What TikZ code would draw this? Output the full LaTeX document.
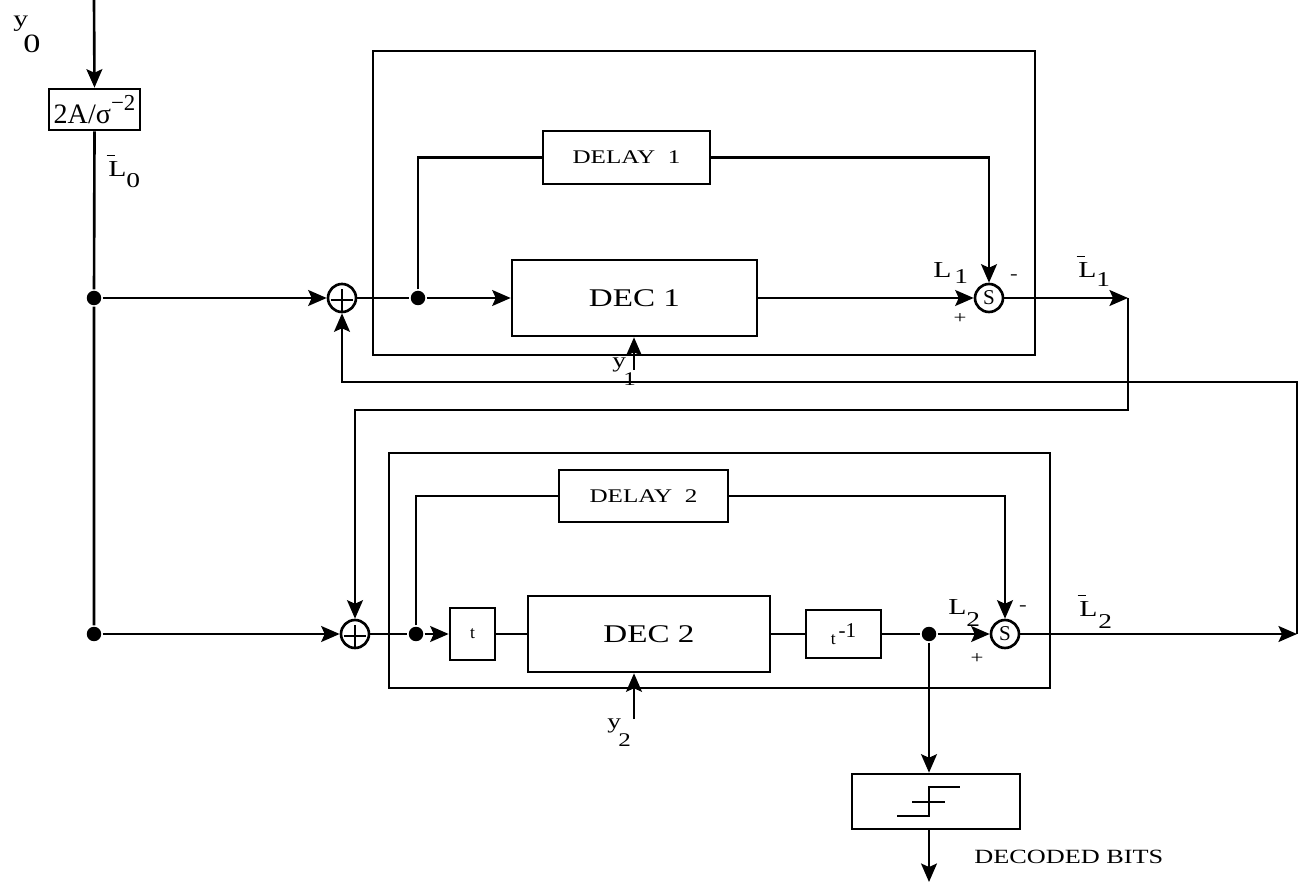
\documentclass[tikz,border=0pt]{standalone}
\usepackage{fontspec}
\setmainfont{Liberation Serif}
\newfontfamily\wfont[FakeStretch=1.3]{Liberation Serif}
\usetikzlibrary{arrows.meta}
\newcommand{\fsz}[1]{\fontsize{#1}{#1}\selectfont}
\newcommand{\Lb}{\rlap{\kern-1pt\raisebox{12pt}{\rule{5pt}{0.6pt}}}L}
\begin{document}
\begin{tikzpicture}[x=0.02cm,y=-0.02cm,line width=1.5pt,
  arr/.style={-{Stealth[length=10.5pt,width=9pt,inset=2pt]}},
  blk/.style={draw,inner sep=0pt,font=\wfont\fsz{11}},
  sumc/.style={draw,circle,minimum size=0.56cm,inner sep=0pt,
    path picture={
      \draw[line width=0.9pt] ([xshift=1.5pt,yshift=-1pt]path picture bounding box.west) -- ([xshift=-1.5pt,yshift=-1pt]path picture bounding box.east);
      \draw[line width=0.9pt] ([yshift=-3pt]path picture bounding box.north) -- (path picture bounding box.south);}},
  subc/.style={draw,circle,minimum size=0.56cm,inner sep=0pt,font=\fsz{12}},
  dotn/.style={circle,fill,minimum size=0.29cm,inner sep=0pt},
  lbl/.style={inner sep=0pt,anchor=base west,font=\wfont\fsz{13}},
  sublbl/.style={inner sep=0pt,anchor=base west,font=\wfont\fsz{12}},
  sml/.style={inner sep=0pt,font=\wfont\fsz{10}},
]
\useasboundingbox (0,0) rectangle (1301,884);

% blocks
\node[draw,inner sep=0pt,minimum width=1.82cm,minimum height=0.82cm,font=\fsz{16}] (box0) at (94.5,109.5) {2A/σ\raisebox{0.45em}{\fsz{13}−2}};
\node[draw,minimum width=13.24cm,minimum height=6.08cm] (outer1) at (704,203) {};
\node[blk,minimum width=3.34cm,minimum height=1.06cm] (delay1) at (626.5,157.5) {DELAY\ \ 1};
\node[blk,minimum width=4.9cm,minimum height=1.52cm,font=\wfont\fsz{14.5}] (dec1) at (634.5,298) {DEC 1};
\node[sumc] (sum1) at (342,298) {};
\node[subc] (s1) at (989,298) {S};

\node[draw,minimum width=13.22cm,minimum height=4.7cm] (outer2) at (719.5,570.5) {};
\node[blk,minimum width=3.38cm,minimum height=1.04cm] (delay2) at (643.5,496) {DELAY\ \ 2};
\node[blk,minimum width=4.84cm,minimum height=1.52cm,font=\wfont\fsz{14.5}] (dec2) at (649,634) {DEC 2};
\node[blk,minimum width=0.9cm,minimum height=1.04cm,font=\fsz{10}] (tbox) at (472.5,634) {t};
\node[blk,minimum width=1.5cm,minimum height=0.96cm,font=\fsz{10}] (tinv) at (843.5,634) {t\,\raisebox{0.4em}{\fsz{12}-1}};
\node[sumc] (sum2) at (355,634) {};
\node[subc] (s2) at (1005,634) {S};
\node[draw,minimum width=3.36cm,minimum height=1.1cm] (thr) at (936,801.5) {};

% dots and coordinates
\node[dotn] (d0a) at (94,298) {};
\node[dotn] (d0b) at (94,634) {};
\node[dotn] (d1) at (418,298) {};
\node[dotn] (d2) at (416,634) {};
\node[dotn] (d3) at (929,634) {};
\coordinate (in0) at (94,0);
\coordinate (r1) at (1128,298);
\coordinate (r1b) at (1128,410);
\coordinate (r2) at (1297,634);
\coordinate (r2b) at (1297,382);
\coordinate (y1s) at (634,370);
\coordinate (y2s) at (634,719);
\coordinate (out) at (929,882);

% connectors
\draw[arr] (in0) -- (box0.north);
\draw (box0.south) -- (d0a) -- (d0b);
\draw[arr] (d0a) -- (sum1.west);
\draw[arr] (d0b) -- (sum2.west);
\draw (sum1.east) -- (d1);
\draw[arr] (d1) -- (dec1.west);
\draw (d1) |- (delay1.west);
\draw[arr] (delay1.east) -| (s1.north);
\draw[arr] (dec1.east) -- (s1.west);
\draw[arr] (s1.east) -- (r1);
\draw[arr] (r1) -- (r1b) -| (sum2.north);
\draw[arr] (y1s) -- (y1s |- dec1.south);

\draw (sum2.east) -- (d2);
\draw[arr] (d2) -- (tbox.west);
\draw (tbox.east) -- (dec2.west);
\draw (dec2.east) -- (tinv.west);
\draw (tinv.east) -- (d3);
\draw[arr] (d3) -- (s2.west);
\draw (d2) |- (delay2.west);
\draw[arr] (delay2.east) -| (s2.north);
\draw[arr] (s2.east) -- (r2);
\draw[arr] (r2) -- (r2b) -| (sum1.south);
\draw[arr] (y2s) -- (y2s |- dec2.south);
\draw[arr] (d3) -- (d3 |- thr.north);
\draw[arr] (d3 |- thr.south) -- (out);

% threshold symbol
\draw[line width=1.2pt] (897,816) -- (929,816) -- (929,787) -- (960,787);
\draw[line width=1.2pt] (912,802) -- (945,802);

% labels
\node[lbl] (ly0) at (12,27) {y};
\node[lbl,font=\wfont\fsz{15}] (l0n) at (22,53) {0};
\node[lbl] (lL0) at (107,177) {\Lb};
\node[sublbl] (lL0s) at (125,188) {0};
\node[lbl] (lL1) at (932,278) {L};
\node[sublbl] (lL1s) at (953,284) {1};
\node[lbl] (lLb1) at (1077,278) {\Lb};
\node[sublbl] (lLb1s) at (1095,287) {1};
\node[lbl] (lL2) at (947,615) {L};
\node[sublbl] (lL2s) at (965,626) {2};
\node[lbl] (lLb2) at (1078,617) {\Lb};
\node[sublbl] (lLb2s) at (1097,628) {2};
\node[sml] (m1) at (1014,277) {-};
\node[sml] (p1) at (960,319) {+};
\node[sml] (m2) at (1023,608) {-};
\node[sml] (p2) at (977,659) {+};
\node[lbl,font=\wfont\fsz{12}] (ly1) at (611,368) {y};
\node[sublbl,font=\wfont\fsz{11}] (ly1s) at (622,386) {1};
\node[lbl,font=\wfont\fsz{12}] (ly2) at (606,728) {y};
\node[sublbl,font=\wfont\fsz{11}] (ly2s) at (617,746) {2};
\node[lbl,font=\wfont\fsz{11.5}] (ldec) at (973,863) {DECODED BITS};
\end{tikzpicture}
\end{document}
